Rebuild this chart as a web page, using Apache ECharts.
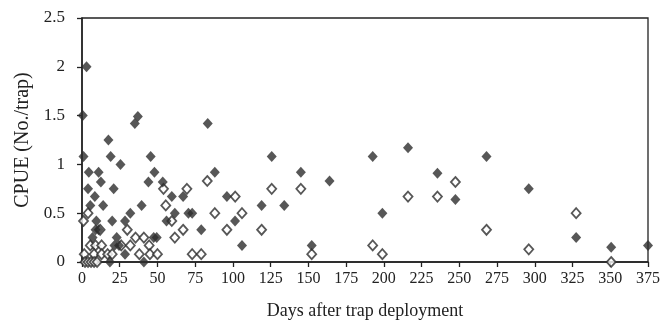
<!DOCTYPE html>
<html><head><meta charset="utf-8">
<script src="https://cdn.jsdelivr.net/npm/echarts@6/dist/echarts.min.js"></script>
<style>html,body{margin:0;padding:0;background:#fff}#c{width:666px;height:323px}</style>
</head><body><div id="c"></div>
<script>
const xTicks = [0,25,50,75,100,125,150,175,200,225,250,275,300,325,350,375];
const yTicks = [0,0.5,1,1.5,2,2.5];
const xName = 'Days after trap deployment';
const yName = 'CPUE (No./trap)';
const filledSeries = [
 [0.5,1.5],[3,2.0],[1,1.08],[17.5,1.25],[35,1.42],[37,1.49],[19,1.08],[25.5,1.0],[45.5,1.08],[48,0.92],
 [44,0.82],[53.5,0.82],[4.5,0.92],[11,0.92],[12.5,0.82],[4,0.75],[21,0.75],[8.5,0.67],[5.5,0.58],[14,0.58],
 [39.5,0.58],[59.5,0.67],[67,0.67],[32,0.5],[9.5,0.42],[20,0.42],[28.5,0.42],[56,0.42],[61.5,0.5],[70.5,0.5],
 [73,0.5],[9,0.33],[11,0.33],[7,0.25],[23,0.25],[47.5,0.25],[49.5,0.25],[21.5,0.17],[24.5,0.17],[28.5,0.08],
 [41,0],[18.5,0],[83.3,1.42],[88,0.92],[79,0.33],[96,0.67],[101.4,0.42],[106,0.17],[119,0.58],[125.7,1.08],
 [134,0.58],[145,0.92],[152.2,0.17],[164,0.83],[192.6,1.08],[199,0.5],[216,1.17],[235.5,0.91],[247.4,0.64],
 [268,1.08],[296,0.75],[327.4,0.25],[350.6,0.15],[375,0.17]
];
const openSeries = [
 [1,0.42],[4,0.5],[5.5,0.17],[9,0.17],[13,0.17],[1.5,0.08],[8,0.08],[13,0.08],[17,0.08],[20,0.08],
 [2,0],[4,0],[6,0],[8,0],[10,0],[12,0.33],[30,0.33],[26,0.17],[32,0.17],[35.5,0.25],[41,0.25],[44.5,0.17],
 [45,0.08],[50,0.08],[38,0.08],[54,0.75],[55.5,0.58],[59.5,0.42],[61.5,0.25],[67,0.33],[69.5,0.75],[73,0.08],
 [79,0.08],[83,0.83],[88,0.5],[96,0.33],[101.5,0.67],[106,0.5],[119,0.33],[125.7,0.75],[145,0.75],[152.2,0.08],
 [192.6,0.17],[199,0.08],[216,0.67],[235.5,0.67],[247.4,0.82],[268,0.33],[296,0.13],[327.4,0.5],[350.6,0]
];
const font = '"Liberation Serif","Times New Roman",serif';
const chart = echarts.init(document.getElementById('c'), null, {renderer:'canvas'});
chart.setOption({
  animation:false,
  grid:{left:82,right:18,top:18,bottom:61,containLabel:false,outerBoundsMode:'none',
    show:true,borderColor:'#222',borderWidth:1.3,backgroundColor:'transparent'},
  xAxis:{type:'value',min:xTicks[0],max:xTicks[xTicks.length-1],interval:25,
    name:xName,nameLocation:'middle',nameGap:40,
    nameTextStyle:{fontFamily:font,fontSize:18,color:'#222'},
    axisLine:{show:true,onZero:false,lineStyle:{color:'#222',width:1.5}},
    axisTick:{show:true,inside:false,length:5,lineStyle:{color:'#222',width:1.3}},
    axisLabel:{fontFamily:font,fontSize:16,color:'#222',margin:9},
    splitLine:{show:false}},
  yAxis:{type:'value',min:yTicks[0],max:yTicks[yTicks.length-1],interval:0.5,
    name:yName,nameLocation:'middle',nameGap:40,nameRotate:90,
    nameTextStyle:{fontFamily:font,fontSize:20,color:'#222'},
    axisLine:{show:true,lineStyle:{color:'#222',width:1.5}},
    axisTick:{show:true,inside:false,length:5,lineStyle:{color:'#222',width:1.3}},
    axisLabel:{fontFamily:font,fontSize:17,color:'#222',margin:17,
      formatter:v=>String(v)},
    splitLine:{show:false}},
  series:[
    {type:'scatter',data:openSeries,symbol:'diamond',symbolSize:[9,10],
     itemStyle:{color:'#fff',borderColor:'#2d2d2d',borderWidth:1.8}},
    {type:'scatter',data:filledSeries,symbol:'diamond',symbolSize:[10,11],
     itemStyle:{color:'#2d2d2d',borderWidth:0}}
  ]
});
</script></body></html>
